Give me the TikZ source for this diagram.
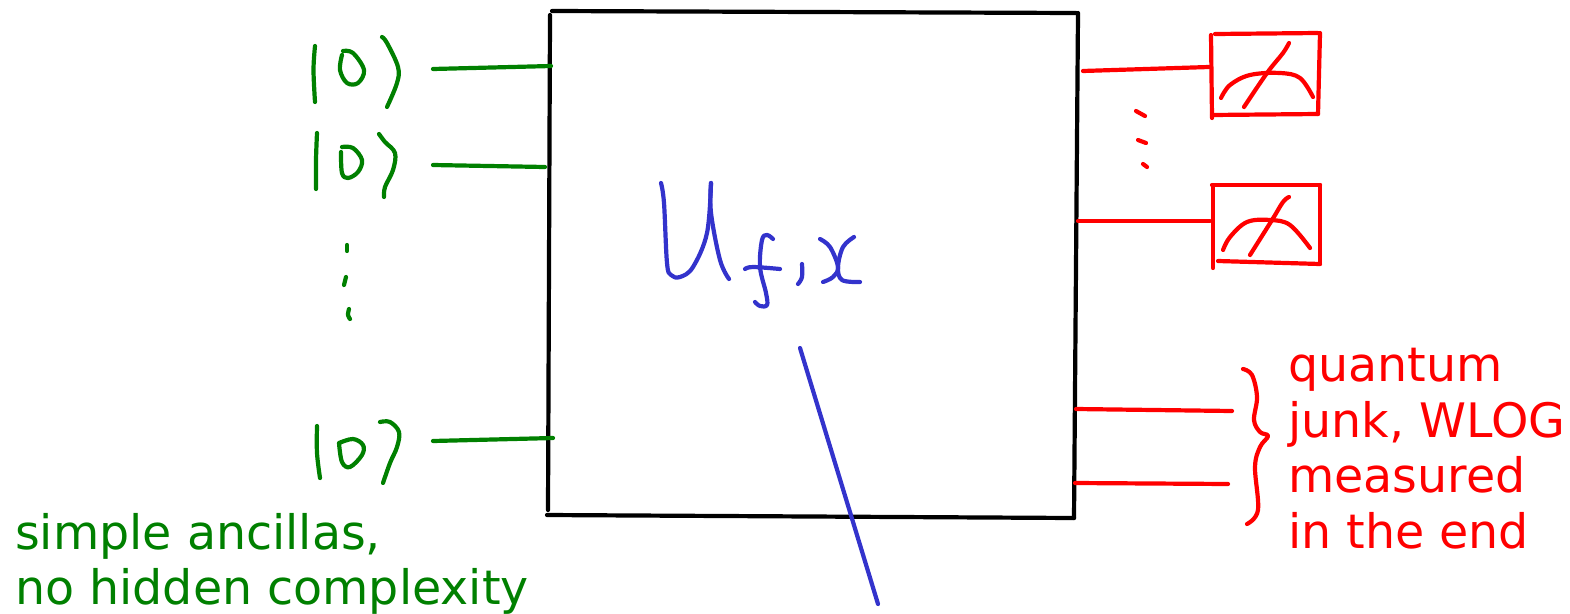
\documentclass[tikz,border=0pt]{standalone}
\usepackage{fontspec}
\setmainfont{DejaVu Sans}
\definecolor{inkgreen}{HTML}{008000}
\definecolor{inkred}{HTML}{FF0000}
\definecolor{inkblue}{HTML}{3333CC}
\tikzset{
  stroke/.style={line width=4.2pt,line cap=round,line join=round},
  gstroke/.style={stroke,inkgreen},
  rstroke/.style={stroke,inkred},
  bstroke/.style={stroke,inkblue},
  kstroke/.style={stroke,black},
  curvy/.style={smooth,tension=0.6},
  label text/.style={font=\fontsize{47.5}{55.6}\selectfont,align=left,inner sep=0pt,anchor=north west}
}
\begin{document}
\begin{tikzpicture}[x=1pt,y=-1pt]
\useasboundingbox (0,0) rectangle (1570,613);
% black box
\draw[kstroke] (552,11) -- (1076,13);
\draw[kstroke] (1078,13) -- (1074,518);
\draw[kstroke] (547,515) -- (1074,518);
\draw[kstroke] (550,15) -- (548,510);
% green kets
\draw[gstroke] plot[curvy] coordinates {(315,46)(313.5,70)(315,102)};
\draw[gstroke] plot[curvy] coordinates {(343,51)(353,53)(364,70)(358,83)(347,83)(340,70)(342,55)};
\draw[gstroke] plot[curvy] coordinates {(382,37)(387,43)(398,67)(397,83)(387,107)};
\draw[gstroke] (433,69) -- (551,66);
\draw[gstroke] plot[curvy] coordinates {(317,133)(316,160)(316,189)};
\draw[gstroke] plot[curvy] coordinates {(342,147)(353,148)(362,160)(358,172)(348,178)(342,173)(341,152)};
\draw[gstroke] plot[curvy] coordinates {(379,134)(385,142)(395,153)(393,170)(385,187)(384,197)};
\draw[gstroke] (433,165) -- (545,167);
\draw[gstroke] (347,245) -- (347,251);
\draw[gstroke] (346,277) -- (344,285);
\draw[gstroke] plot[curvy] coordinates {(349,309)(348,315)(350,319)};
\draw[gstroke] plot[curvy] coordinates {(317,426)(317,453)(320,478)};
\draw[gstroke] plot[curvy] coordinates {(339,443)(353,439)(363,445)(362,455)(350,467)(342,462)(339,443)};
\draw[gstroke] plot[curvy] coordinates {(380,422)(390,422)(399,432)(397,447)(390,463)(383,483)};
\draw[gstroke] (433,441) -- (553,438);
% blue U_{f,x}
\draw[bstroke] plot[curvy] coordinates {(661,183)(664,203)(667,263)(671,275)(680,277)(693,267)(707,233)(711,183)};
\draw[bstroke] plot[curvy] coordinates {(711,183)(711,213)(720,260)(729,279)};
\draw[bstroke] plot[curvy] coordinates {(773,239)(767,235)(762,240)(760,267)(766,293)(767,305)(760,306)(755,302)};
\draw[bstroke] plot[curvy] coordinates {(745,269)(753,267)(780,269)};
\draw[bstroke] plot[curvy] coordinates {(802,264)(802,277)(798,284)};
\draw[bstroke] plot[curvy] coordinates {(820,239)(830,247)(838,267)(833,277)(823,282)};
\draw[bstroke] plot[curvy] coordinates {(854,237)(843,247)(838,267)(842,280)(860,282)};
\draw[bstroke] (800,348) -- (878,604);
% red meters
\draw[rstroke] (1083,71) -- (1209,67);
\draw[rstroke] (1211,35) -- (1212,118);
\draw[rstroke] (1215,34) -- (1318,33);
\draw[rstroke] (1320,33) -- (1318,114);
\draw[rstroke] (1212,115) -- (1318,114);
\draw[rstroke] plot[curvy] coordinates {(1221,98)(1230,85)(1250,75)(1280,73)(1300,78)(1313,97)};
\draw[rstroke] plot[curvy] coordinates {(1244,107)(1267,73)(1283,53)(1289,43)};
\draw[rstroke] (1136,111) -- (1145,116);
\draw[rstroke] (1138,140) -- (1146,143);
\draw[rstroke] (1143,164) -- (1147,167);
\draw[rstroke] (1078,221) -- (1210,221);
\draw[rstroke] (1213,185) -- (1213,268);
\draw[rstroke] (1212,185) -- (1320,185);
\draw[rstroke] (1320,185) -- (1320,264);
\draw[rstroke] (1218,261) -- (1320,264);
\draw[rstroke] plot[curvy] coordinates {(1223,250)(1230,237)(1247,222)(1270,220)(1290,225)(1310,248)};
\draw[rstroke] plot[curvy] coordinates {(1250,255)(1272,220)(1283,202)(1289,197)};
% junk wires and brace
\draw[rstroke] (1076,409) -- (1232,411);
\draw[rstroke] (1075,483) -- (1228,484);
\draw[rstroke] plot[curvy] coordinates {(1243,369)(1252,375)(1257,397)(1254,420)(1260,432)(1268,436)(1260,447)(1255,467)(1258,510)(1247,524)};
% labels
\node[label text,text=inkgreen] (ancillas) at (15,513) {simple ancillas,\\no hidden complexity};
\node[label text,text=inkred] (junk) at (1288,348) {quantum\\junk, WLOG\\measured\\in the end};
\end{tikzpicture}
\end{document}
